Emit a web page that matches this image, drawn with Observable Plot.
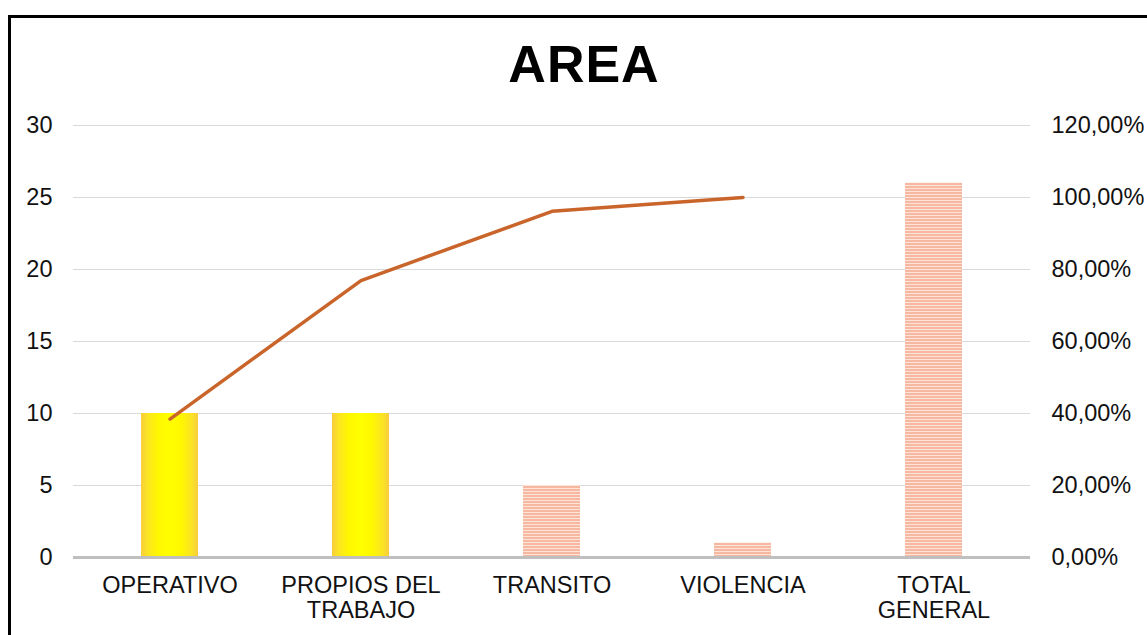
<!DOCTYPE html>
<html>
<head>
<meta charset="utf-8">
<script src="https://cdn.jsdelivr.net/npm/d3@7"></script>
<script src="https://cdn.jsdelivr.net/npm/@observablehq/plot@0.6"></script>
<style>
  html, body { margin: 0; padding: 0; background: #fff; overflow: hidden; }
  #wrap { position: relative; width: 1147px; height: 635px; overflow: hidden; font-family: "Liberation Sans", Arial, sans-serif; }
  #frame { position: absolute; left: 8px; top: 15px; width: 1300px; height: 800px; border: 3px solid #000; box-sizing: border-box; }
  #title { position: absolute; left: 0; top: 38px; width: 1168px; text-align: center; font-size: 52px; line-height: 52px; font-weight: bold; color: #000; letter-spacing: 1px; }
  #chart { position: absolute; left: 0; top: 0; }
</style>
</head>
<body>
<div id="wrap">
  <div id="frame"></div>
  <div id="chart"></div>
  <div id="title">AREA</div>
</div>
<script>
// ---- data ----
const categories = ["OPERATIVO", "PROPIOS DEL TRABAJO", "TRANSITO", "VIOLENCIA", "TOTAL GENERAL"];
const counts = [10, 10, 5, 1, 26];
const cumPercent = [38.46, 76.92, 96.15, 100.0]; // cumulative % for first four categories
const categoryLabels = ["OPERATIVO", "PROPIOS DEL\nTRABAJO", "TRANSITO", "VIOLENCIA", "TOTAL\nGENERAL"];
const leftTicks = [0, 5, 10, 15, 20, 25, 30];
const rightTickLabels = ["0,00%", "20,00%", "40,00%", "60,00%", "80,00%", "100,00%", "120,00%"];
const yellowCats = ["OPERATIVO", "PROPIOS DEL TRABAJO"];

const bars = categories.map((c, i) => ({cat: c, value: counts[i]}));
const linePts = cumPercent.map((p, i) => ({cat: categories[i], pct: p}));
const pctToLeft = 25 / 100; // 100% aligns with 25 on the left axis (120% ↔ 30)

const plot = Plot.plot({
  width: 1147,
  height: 635,
  marginLeft: 73,
  marginRight: 117,
  marginTop: 125,
  marginBottom: 78,
  style: {fontFamily: "'Liberation Sans', Arial, sans-serif", fontSize: "23.5px", color: "#111", background: "transparent", overflow: "visible"},
  x: {domain: categories, paddingInner: 0.7, paddingOuter: 0.35},
  y: {domain: [0, 30]},
  marks: [
    Plot.gridY(leftTicks, {stroke: "#d9d9d9", strokeOpacity: 1, strokeWidth: 1}),
    Plot.barY(bars.filter(d => yellowCats.includes(d.cat)), {x: "cat", y: "value", fill: "url(#gradYellow)"}),
    Plot.barY(bars.filter(d => !yellowCats.includes(d.cat)), {x: "cat", y: "value", fill: "url(#hatchSalmon)"}),
    Plot.ruleY([0], {stroke: "#bfbfbf", strokeWidth: 3}),
    Plot.lineY(linePts, {x: "cat", y: d => d.pct * pctToLeft, stroke: "#c9652a", strokeWidth: 3.5, strokeLinecap: "round", strokeLinejoin: "round"}),
    Plot.axisY(leftTicks, {anchor: "left", tickSize: 0, tickPadding: 21, label: null, fill: "#111"}),
    Plot.axisY(leftTicks, {anchor: "right", tickSize: 0, tickPadding: 21, label: null, fill: "#111",
      tickFormat: (d) => rightTickLabels[leftTicks.indexOf(d)]}),
    Plot.axisX({anchor: "bottom", tickSize: 0, tickPadding: 18, label: null, fill: "#111",
      tickFormat: (d) => categoryLabels[categories.indexOf(d)], lineHeight: 1.07})
  ]
});

// pattern / gradient definitions
const svgSel = d3.select(plot);
const defs = svgSel.insert("defs", ":first-child");
const g = defs.append("linearGradient").attr("id", "gradYellow").attr("x1", "0").attr("x2", "1").attr("y1", "0").attr("y2", "0");
[["0%", "#f8cd3c"], ["12%", "#fbe522"], ["30%", "#fff700"], ["50%", "#ffff00"], ["70%", "#fff700"], ["88%", "#fbe522"], ["100%", "#f8cd3c"]]
  .forEach(([o, c]) => g.append("stop").attr("offset", o).attr("stop-color", c));
const p = defs.append("pattern").attr("id", "hatchSalmon").attr("patternUnits", "userSpaceOnUse").attr("width", 8).attr("height", 3);
p.append("rect").attr("width", 8).attr("height", 3).attr("fill", "#fde3d8");
p.append("rect").attr("width", 8).attr("height", 2).attr("fill", "#f6b8a0");

document.getElementById("chart").appendChild(plot);
</script>
</body>
</html>
